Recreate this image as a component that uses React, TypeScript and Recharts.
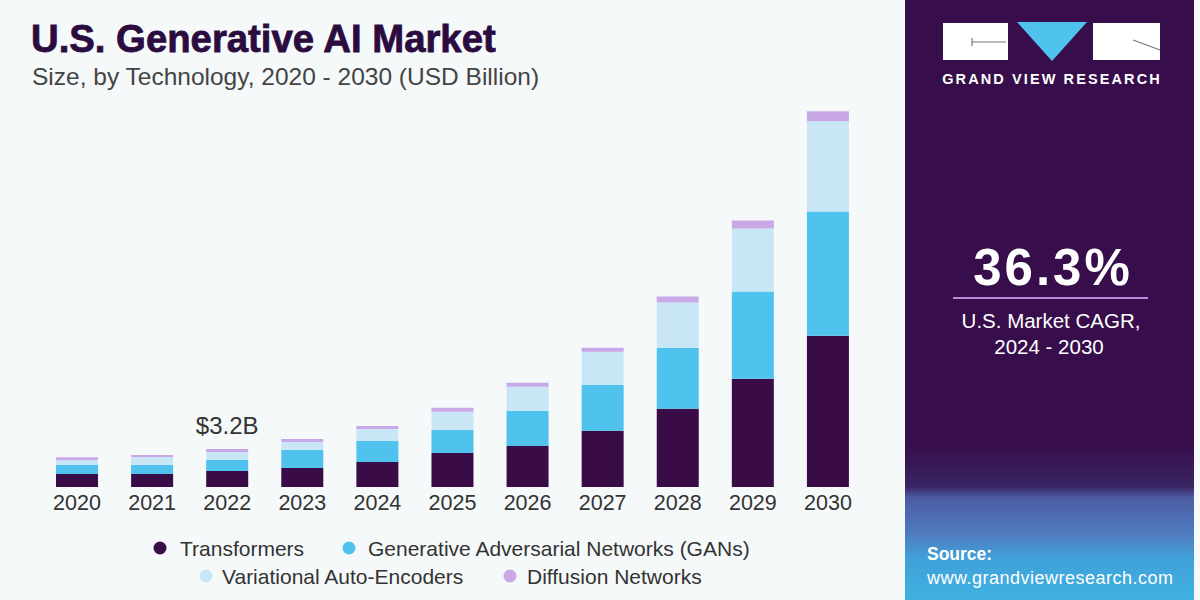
import React from "react";
import { BarChart, Bar, XAxis, YAxis, LabelList } from "recharts";

const years = ["2020", "2021", "2022", "2023", "2024", "2025", "2026", "2027", "2028", "2029", "2030"];
const transformers = [1.09, 1.09, 1.35, 1.6, 2.1, 2.86, 3.45, 4.72, 6.57, 9.09, 12.72];
const gans = [0.76, 0.76, 0.93, 1.52, 1.77, 1.94, 2.95, 3.87, 5.14, 7.33, 10.44];
const vaes = [0.42, 0.67, 0.67, 0.67, 1.01, 1.52, 2.02, 2.78, 3.79, 5.31, 7.58];
const diffusion = [0.23, 0.17, 0.25, 0.25, 0.25, 0.34, 0.34, 0.34, 0.51, 0.67, 0.84];

const seriesNames = [
  "Transformers",
  "Generative Adversarial Networks (GANs)",
  "Variational Auto-Encoders",
  "Diffusion Networks",
];
const seriesKeys = ["transformers", "gans", "vaes", "diffusion"];
const seriesColors = ["#3a0c47", "#4fc3ee", "#c8e6f6", "#c9a8e8"];

const calloutIndex = 2;
const calloutText = "$3.2B";

const data = years.map((y, i) => ({
  year: y,
  transformers: transformers[i],
  gans: gans[i],
  vaes: vaes[i],
  diffusion: diffusion[i],
}));

const FONT = "'Liberation Sans', Arial, Helvetica, sans-serif";

const Callout = (props: any) => {
  const { x, y, width, index } = props;
  if (index !== calloutIndex) return null;
  return (
    <text
      x={Number(x) + Number(width) / 2}
      y={Number(y) - 15}
      textAnchor="middle"
      fontSize={24}
      fill="#333"
      fontFamily={FONT}
    >
      {calloutText}
    </text>
  );
};

const legendItems = [
  { i: 0, cx: 160, tx: 180, y: 548 },
  { i: 1, cx: 349, tx: 368, y: 548 },
  { i: 2, cx: 206, tx: 222, y: 576 },
  { i: 3, cx: 510, tx: 527, y: 576 },
];

export default function App() {
  return (
    <div
      style={{
        position: "absolute",
        top: 0,
        left: 0,
        width: 1200,
        height: 600,
        background: "#f5f9f9",
        overflow: "hidden",
        fontFamily: FONT,
      }}
    >
      <div style={{ position: "absolute", left: 0, top: 0 }}>
        <BarChart
          width={905}
          height={600}
          data={data}
          margin={{ top: 70.5, right: 39.5, left: 39.5, bottom: 83 }}
          barCategoryGap="22%"
        >
          <XAxis
            dataKey="year"
            axisLine={false}
            tickLine={false}
            height={30}
            interval={0}
            tick={{ fontSize: 21.5, fill: "#333", fontFamily: FONT }}
            tickMargin={2}
          />
          <YAxis hide domain={[0, 35]} />
          {seriesKeys.map((k, i) => (
            <Bar
              key={k}
              dataKey={k}
              name={seriesNames[i]}
              stackId="a"
              fill={seriesColors[i]}
              isAnimationActive={false}
            >
              {i === seriesKeys.length - 1 ? <LabelList dataKey={k} content={Callout} /> : null}
            </Bar>
          ))}
        </BarChart>
      </div>

      {/* right panel */}
      <div
        style={{
          position: "absolute",
          left: 905,
          top: 0,
          width: 289,
          height: 600,
          background:
            "linear-gradient(to bottom, #370e4b 0%, #370e4b 74%, #3a2463 81%, #4d5ca4 83%, #4f7cbf 89%, #40a0d8 93%, #3fb2e2 100%)",
        }}
      />

      <svg style={{ position: "absolute", left: 0, top: 0 }} width={1200} height={600}>
        {/* titles */}
        <text
          x={31}
          y={52}
          fontSize={38.3}
          fontWeight={700}
          fill="#2b0c3f"
          stroke="#2b0c3f"
          strokeWidth={0.8}
          fontFamily={FONT}
        >
          U.S. Generative AI Market
        </text>
        <text x={32} y={85} fontSize={24.5} fill="#444" fontFamily={FONT}>
          Size, by Technology, 2020 - 2030 (USD Billion)
        </text>

        {/* legend */}
        {legendItems.map((it) => (
          <g key={it.i}>
            <circle cx={it.cx} cy={it.y} r={6.5} fill={seriesColors[it.i]} />
            <text x={it.tx} y={it.y + 7.5} fontSize={21} fill="#333" fontFamily={FONT}>
              {seriesNames[it.i]}
            </text>
          </g>
        ))}

        {/* logo */}
        <rect x={943} y={23} width={65} height={37} fill="#ffffff" />
        <line x1={972} y1={42} x2={1006} y2={42} stroke="#777" strokeWidth={1.2} />
        <line x1={972} y1={38} x2={972} y2={46} stroke="#777" strokeWidth={1.2} />
        <polygon points="1017,22 1087,22 1052,61" fill="#4fc3ee" />
        <rect x={1093} y={23} width={67} height={37} fill="#ffffff" />
        <line x1={1133} y1={40} x2={1160} y2={50} stroke="#777" strokeWidth={1.2} />
        <text
          x={1052}
          y={83.5}
          textAnchor="middle"
          fontSize={14.5}
          fontWeight={700}
          fill="#ffffff"
          fontFamily={FONT}
          letterSpacing={2.1}
        >
          GRAND VIEW RESEARCH
        </text>

        {/* CAGR */}
        <text
          x={1053}
          y={285}
          textAnchor="middle"
          fontSize={51}
          fontWeight={700}
          fill="#ffffff"
          fontFamily={FONT}
          letterSpacing={3}
        >
          36.3%
        </text>
        <line x1={953} y1={298} x2={1148} y2={298} stroke="#b68ad9" strokeWidth={2} />
        <text x={1051} y={328} textAnchor="middle" fontSize={20.5} fill="#ffffff" fontFamily={FONT}>
          U.S. Market CAGR,
        </text>
        <text x={1049} y={354} textAnchor="middle" fontSize={20.5} fill="#ffffff" fontFamily={FONT}>
          2024 - 2030
        </text>

        {/* source */}
        <text x={927} y={560} fontSize={17.5} fontWeight={700} fill="#ffffff" fontFamily={FONT}>
          Source:
        </text>
        <text x={927} y={584} fontSize={18} fill="#ffffff" fontFamily={FONT} letterSpacing={0.5}>
          www.grandviewresearch.com
        </text>
      </svg>
    </div>
  );
}
